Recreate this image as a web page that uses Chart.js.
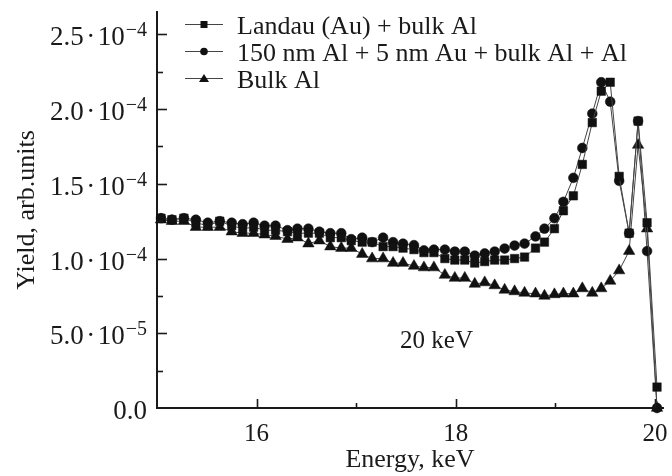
<!DOCTYPE html>
<html>
<head>
<meta charset="utf-8">
<script src="https://cdn.jsdelivr.net/npm/chart.js@4.4.1/dist/chart.umd.min.js"></script>
<style>
  html, body { margin: 0; padding: 0; background: #fff; }
</style>
</head>
<body>
<canvas id="chart" width="672" height="476"></canvas>
<script>
// yield vs energy, 20 keV

const UNIT = 1e-4; // values below are in units of 1e-4

const energy = [
  15.04, 15.15, 15.27, 15.39, 15.51, 15.63, 15.75, 15.86, 15.97, 16.08,
  16.19, 16.31, 16.41, 16.52, 16.63, 16.74, 16.85, 16.95, 17.06, 17.16,
  17.27, 17.37, 17.47, 17.58, 17.68, 17.78, 17.89, 17.99, 18.09, 18.19,
  18.29, 18.39, 18.49, 18.59, 18.69, 18.80, 18.89, 18.99, 19.08, 19.18,
  19.27, 19.37, 19.46, 19.55, 19.64, 19.74, 19.83, 19.92, 20.02
];

// Landau (Au) + bulk Al  (squares)
const landau = [
  1.27, 1.26, 1.27, 1.24, 1.22, 1.25, 1.22, 1.20, 1.21, 1.19,
  1.19, 1.18, 1.17, 1.17, 1.17, 1.14, 1.14, 1.12, 1.11, 1.11,
  1.08, 1.08, 1.07, 1.06, 1.04, 1.04, 1.00, 0.99, 0.99, 0.97,
  0.98, 0.99, 0.99, 1.00, 1.01, 1.07, 1.11, 1.20, 1.32, 1.42,
  1.63, 1.91, 2.12, 2.18, 1.55, 1.17, 1.92, 1.24, 0.14
];

// 150 nm Al + 5 nm Au + bulk Al + Al  (circles)
const layered = [
  1.27, 1.26, 1.27, 1.26, 1.24, 1.25, 1.24, 1.23, 1.24, 1.22,
  1.22, 1.19, 1.20, 1.20, 1.18, 1.17, 1.17, 1.13, 1.14, 1.11,
  1.14, 1.11, 1.10, 1.09, 1.055, 1.06, 1.06, 1.047, 1.047, 1.02,
  1.034, 1.047, 1.067, 1.087, 1.10, 1.148, 1.20, 1.27, 1.38, 1.54,
  1.74, 1.97, 2.18, 2.05, 1.52, 1.17, 1.92, 1.05, 0.0
];

// Bulk Al  (triangles)
const bulk = [
  1.26, 1.25, 1.25, 1.21, 1.21, 1.21, 1.18, 1.17, 1.17, 1.16,
  1.15, 1.13, 1.14, 1.10, 1.12, 1.08, 1.07, 1.07, 1.03, 1.00,
  1.00, 0.97, 0.97, 0.95, 0.94, 0.94, 0.89, 0.87, 0.87, 0.83,
  0.84, 0.82, 0.79, 0.78, 0.77, 0.765, 0.75, 0.76, 0.765, 0.765,
  0.80, 0.77, 0.80, 0.85, 0.92, 1.05, 1.76, 1.20, 0.0
];

const seriesNames = [
  "Landau (Au) + bulk Al",
  "150 nm Al + 5 nm Au + bulk Al + Al",
  "Bulk Al"
];
const seriesValues = [landau, layered, bulk];
const pointStyles = ["rect", "circle", "triangle"];
const pointSizes = [6, 4.9, 6.6];

const xMin = 15, xMax = 20.08, xStep = 1;
const xLabeled = [16, 18, 20];
const yMin = 0, yMax = 2.65e-4, yMinorStep = 2.5e-5;

const noteText = "20 keV";
const noteAt = { x: 17.44, y: 0.40e-4 };

const SERIF = "'Liberation Serif', 'Times New Roman', serif";
const INK = "#1a1a1a";

function yLabelParts(v) {
  if (Math.abs(v) < 1e-12) return { mant: "0.0", exp: null };
  const exp = Math.floor(Math.log10(v) + 1e-9);
  return { mant: (v / Math.pow(10, exp)).toFixed(1), exp: "\u2212" + Math.abs(exp) };
}

// inward tick marks, y labels with superscripts, legend, note
const decor = {
  id: "decor",
  afterDraw(chart) {
    const ctx = chart.ctx;
    const xs = chart.scales.x, ys = chart.scales.y;
    const x0 = ys.right, y0 = xs.top;
    ctx.save();
    ctx.strokeStyle = INK;
    ctx.lineWidth = 1.6;

    ys.ticks.forEach(t => {
      const n = Math.round(t.value / yMinorStep);
      if (n === 0) return;
      const py = Math.round(ys.getPixelForValue(t.value)) + 0.5;
      const len = n % 2 ? 6 : 10;
      ctx.beginPath();
      ctx.moveTo(x0, py);
      ctx.lineTo(x0 + len, py);
      ctx.stroke();
    });
    xs.ticks.forEach(t => {
      if (t.value <= xMin) return;
      const px = Math.round(xs.getPixelForValue(t.value)) + 0.5;
      const len = xLabeled.includes(t.value) ? 9 : 5;
      ctx.beginPath();
      ctx.moveTo(px, y0);
      ctx.lineTo(px, y0 - len);
      ctx.stroke();
    });

    // y labels:  m.m · 10^-e
    ctx.fillStyle = INK;
    ctx.textBaseline = "alphabetic";
    ctx.textAlign = "left";
    ys.ticks.forEach(t => {
      const n = Math.round(t.value / yMinorStep);
      if (n % 2) return;
      const py = ys.getPixelForValue(t.value);
      const p = yLabelParts(n * yMinorStep);
      const mainFont = "27px " + SERIF, supFont = "20px " + SERIF;
      ctx.font = mainFont;
      const wM = ctx.measureText(p.mant).width;
      if (!p.exp) {
        ctx.fillText(p.mant, x0 - 10 - wM, py + 11);
        return;
      }
      const wDot = ctx.measureText("\u00B7").width;
      const wTen = ctx.measureText("10").width;
      ctx.font = supFont;
      const wSup = ctx.measureText(p.exp).width;
      const gap = 2.5;
      let x = x0 - 10 - (wM + gap + wDot + gap + wTen + 1 + wSup);
      ctx.font = mainFont;
      ctx.fillText(p.mant, x, py + 11);
      x += wM + gap;
      ctx.fillText("\u00B7", x, py + 11);
      x += wDot + gap;
      ctx.fillText("10", x, py + 11);
      x += wTen + 1;
      ctx.font = supFont;
      ctx.fillText(p.exp, x, py + 2);
    });

    // note
    ctx.font = "25px " + SERIF;
    ctx.textAlign = "left";
    ctx.fillText(noteText, xs.getPixelForValue(noteAt.x), ys.getPixelForValue(noteAt.y));

    // legend
    const lx = 185, lw = 38, rowY = [24, 51, 78];
    seriesNames.forEach((name, i) => {
      const y = rowY[i];
      ctx.strokeStyle = "#444";
      ctx.lineWidth = 1.2;
      ctx.beginPath();
      ctx.moveTo(lx, y + 0.5);
      ctx.lineTo(lx + lw, y + 0.5);
      ctx.stroke();
      const cx = lx + lw / 2;
      ctx.fillStyle = "#111";
      ctx.beginPath();
      if (pointStyles[i] === "rect") {
        ctx.rect(cx - 3.5, y - 3, 7, 7);
      } else if (pointStyles[i] === "circle") {
        ctx.arc(cx, y + 0.5, 3.8, 0, Math.PI * 2);
      } else {
        ctx.moveTo(cx, y - 4);
        ctx.lineTo(cx + 5, y + 4);
        ctx.lineTo(cx - 5, y + 4);
        ctx.closePath();
      }
      ctx.fill();
      ctx.fillStyle = INK;
      ctx.font = "26px " + SERIF;
      ctx.textAlign = "left";
      ctx.fillText(name, 237, y + 9.5);
    });
    ctx.restore();
  }
};

const datasets = seriesValues.map((vals, i) => ({
  label: seriesNames[i],
  data: energy.map((e, k) => ({ x: e, y: vals[k] * UNIT })),
  borderColor: "#444",
  borderWidth: 1,
  tension: 0,
  pointStyle: pointStyles[i],
  pointRadius: pointSizes[i],
  pointBackgroundColor: "#111",
  pointBorderColor: "#111",
  pointBorderWidth: 0.5,
  clip: 8
}));

new Chart(document.getElementById("chart"), {
  type: "line",
  data: { datasets },
  plugins: [decor],
  options: {
    responsive: false,
    animation: false,
    devicePixelRatio: 1,
    layout: { padding: { top: 12, right: 9, left: 0, bottom: 0 } },
    plugins: { legend: { display: false }, tooltip: { enabled: false } },
    scales: {
      x: {
        type: "linear",
        min: xMin,
        max: xMax,
        grid: { display: false, drawTicks: false },
        border: { display: true, color: INK, width: 2 },
        ticks: {
          stepSize: xStep,
          includeBounds: false,
          autoSkip: false,
          maxRotation: 0,
          padding: 11,
          color: INK,
          font: { family: SERIF, size: 25 },
          callback: v => (xLabeled.includes(v) ? String(v) : "")
        },
        title: {
          display: true,
          text: "Energy, keV",
          color: INK,
          font: { family: SERIF, size: 26 },
          padding: { top: 0, bottom: 0 }
        },
        afterFit: s => { s.height = 68; s.paddingLeft = 0; s.paddingRight = 0; }
      },
      y: {
        min: yMin,
        max: yMax,
        grid: { display: false, drawTicks: false },
        border: { display: true, color: INK, width: 2 },
        ticks: { display: false, stepSize: yMinorStep, includeBounds: false },
        title: {
          display: true,
          text: "Yield, arb.units",
          color: INK,
          font: { family: SERIF, size: 26 },
          padding: { top: 12, bottom: 0 }
        },
        afterFit: s => { s.width = 157; s.paddingTop = 0; s.paddingBottom = 0; }
      }
    }
  }
});
</script>
</body>
</html>
